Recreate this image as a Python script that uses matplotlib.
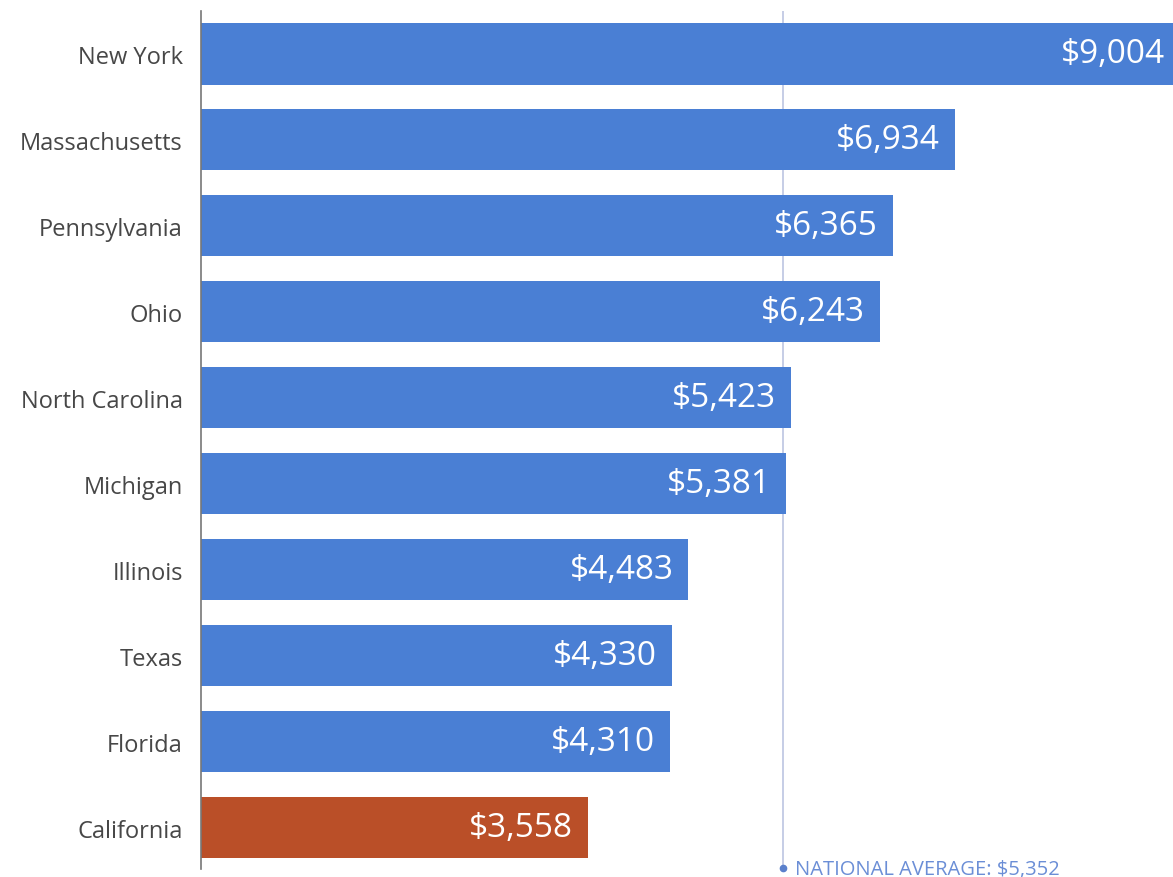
import matplotlib
matplotlib.use("Agg")
import matplotlib.pyplot as plt

states = ["New York", "Massachusetts", "Pennsylvania", "Ohio", "North Carolina",
          "Michigan", "Illinois", "Texas", "Florida", "California"]
values = [9004, 6934, 6365, 6243, 5423, 5381, 4483, 4330, 4310, 3558]
national_average = 5352
highlight = "California"

BLUE = "#4a7fd4"
ORANGE = "#ba4f28"

plt.rcParams["font.family"] = ["Open Sans", "DejaVu Sans"]

fig = plt.figure(figsize=(11.73, 8.78), dpi=100)
ax = fig.add_axes([201 / 1173, 1 - 870 / 878, 1 - 201 / 1173, (870 - 12) / 878])

ypos = list(range(len(states)))
colors = [ORANGE if s == highlight else BLUE for s in states]

ax.axvline(national_average, color="#bcc5e2", lw=1.2, zorder=1)
ax.barh(ypos, values, height=0.71, color=colors, zorder=2)

for y, v in zip(ypos, values):
    ax.annotate(f"${v:,}", xy=(v, y), xytext=(-15, 0), textcoords="offset pixels",
                ha="right", va="center", color="white", fontsize=24, zorder=3,
                annotation_clip=False)

ax.set_xlim(0, 8940)
ax.set_ylim(9.48, -0.5)
ax.set_yticks(ypos)
ax.set_yticklabels(states, fontsize=17, color="#474747")
ax.tick_params(axis="y", length=0, pad=13)
ax.set_xticks([])
for side in ["top", "right", "bottom"]:
    ax.spines[side].set_visible(False)
ax.spines["left"].set_color("#777777")
ax.spines["left"].set_linewidth(1.2)

# national average marker and label
ax.plot([national_average], [9.47], "o", ms=4.5, color="#5a80cc", clip_on=False, zorder=4)
fig.text(795 / 1173, 1 - 870 / 878, f"NATIONAL AVERAGE: ${national_average:,}",
         color="#6b8ed6", fontsize=14.5, fontweight="medium", ha="left", va="center")

fig.savefig("out.png", dpi=100)
